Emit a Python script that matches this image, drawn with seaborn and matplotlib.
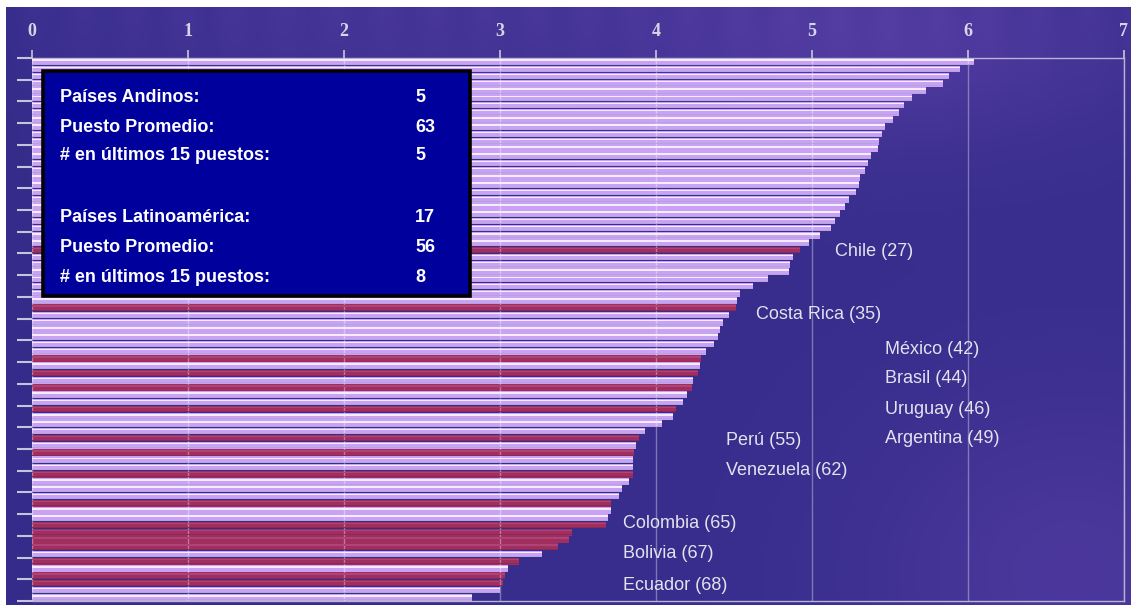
import numpy as np
import pandas as pd
import matplotlib
matplotlib.use("Agg")
import matplotlib.pyplot as plt
from matplotlib.patches import Rectangle
import seaborn as sns

# Growth competitiveness index, 75 economies sorted by rank
ranks = list(range(1, 76))
index_values = [
    6.04, 5.95, 5.88, 5.84, 5.73, 5.64, 5.59, 5.56, 5.52, 5.47,
    5.45, 5.43, 5.42, 5.38, 5.36, 5.34, 5.31, 5.30, 5.28, 5.24,
    5.21, 5.18, 5.15, 5.12, 5.05, 4.98, 4.92, 4.88, 4.86, 4.85,
    4.72, 4.62, 4.54, 4.52, 4.51, 4.47, 4.43, 4.41, 4.40, 4.37,
    4.32, 4.29, 4.28, 4.27, 4.24, 4.23, 4.20, 4.17, 4.13, 4.11,
    4.04, 3.93, 3.89, 3.87, 3.86, 3.85, 3.85, 3.85, 3.83, 3.78,
    3.76, 3.71, 3.71, 3.69, 3.68, 3.46, 3.44, 3.37, 3.27, 3.12,
    3.05, 3.03, 3.02, 3.00, 2.82,
]
# Ranks held by Latin American countries
latam_ranks = [27, 35, 42, 44, 46, 49, 53, 55, 58, 62, 65, 66, 67, 68, 70, 72, 73]

# Named countries and their rank
label_names = ["Chile", "Costa Rica", "México", "Brasil", "Uruguay", "Argentina",
               "Perú", "Venezuela", "Colombia", "Bolivia", "Ecuador"]
label_ranks = [27, 35, 42, 44, 46, 49, 55, 62, 65, 67, 68]

# Summary box
summary_labels = ["Países Andinos:", "Puesto Promedio:", "# en últimos 15 puestos:",
                  "Países Latinoamérica:", "Puesto Promedio:", "# en últimos 15 puestos:"]
summary_values = ["5", "63", "5", "17", "56", "8"]

x_ticks = [0, 1, 2, 3, 4, 5, 6, 7]

# ---------------------------------------------------------------- layout
W, H = 1131, 605
LAVENDER = "#c9a2f6"
CRIMSON = "#a02f60"

df = pd.DataFrame({"rank": ranks, "value": index_values})
df["grupo"] = np.where(df["rank"].isin(latam_ranks), "latam", "otros")

sns.set_theme(style="white")
plt.rcParams["font.family"] = ["Liberation Sans", "DejaVu Sans"]

fig = plt.figure(figsize=(W / 100, H / 100), dpi=100, facecolor="white")

# purple backdrop
bg = fig.add_axes([6 / W, 0, 1 - 6 / W, 1 - 7 / H], zorder=-5)
gy, gx = np.mgrid[0:1:300j, 0:1:560j]
base = np.array([0.205, 0.170, 0.540])
light = np.array([0.37, 0.26, 0.67])
field = 0.10 + 0.55 * np.exp(-((gx - 0.78) ** 2 / 0.05 + (gy - 0.05) ** 2 / 0.03))
field += 0.45 * np.exp(-((gx - 0.95) ** 2 / 0.03 + (gy - 0.95) ** 2 / 0.08))
field += 0.25 * np.exp(-((gx - 0.35) ** 2 / 0.08 + (gy - 0.02) ** 2 / 0.02))
field -= 0.08 * np.exp(-((gx - 0.0) ** 2 / 0.002))
streaks = 0.12 * (np.sin(gx * 70) ** 2) * np.exp(-gy / 0.08)
field = np.clip(field + streaks, 0, 1)
img = base[None, None, :] * (1 - field[..., None]) + light[None, None, :] * field[..., None]
bg.imshow(img, aspect="auto", extent=[0, 1, 0, 1], interpolation="bilinear")
bg.set_axis_off()

ax = fig.add_axes([32 / W, 1 - 601 / H, (1124 - 32) / W, (601 - 58) / H])
ax.set_facecolor("none")

sns.barplot(data=df, x="value", y="rank", hue="grupo", orient="h", dodge=False,
            palette={"latam": CRIMSON, "otros": LAVENDER}, width=0.92,
            saturation=1, legend=False, ax=ax, linewidth=0)

# soft highlight and shade stripes along each bar
pos = np.arange(len(df))
hi_colors = np.where(df["grupo"] == "latam", "#ad4377", "#f6ecff")
ax.barh(pos - 0.22, df["value"], height=0.2, color=hi_colors, linewidth=0, zorder=3)
lo_colors = np.where(df["grupo"] == "latam", "#8a2955", "#b3a5d8")
ax.barh(pos + 0.35, df["value"], height=0.12, color=lo_colors, linewidth=0, zorder=3)

ax.set_xlim(0, 7)
ax.set_ylim(len(df) - 0.5, -0.5)
ax.set_xticks(x_ticks)
ax.set_xticklabels([str(t) for t in x_ticks], family="Liberation Serif",
                   fontsize=13, fontweight="bold", color="#d8d5ea")
ax.xaxis.tick_top()
ax.tick_params(axis="x", top=True, bottom=False, length=6, width=1.2,
               color="#c9c6dc", pad=7, direction="out")
ax.set_yticks(np.arange(-0.5, len(df), 3))
ax.set_yticklabels([])
ax.tick_params(axis="y", left=True, length=11, width=1.5, color="#c6c4d8",
               direction="out")
ax.set_xlabel("")
ax.set_ylabel("")
ax.grid(axis="x", color="white", alpha=0.35, linewidth=1)
ax.grid(axis="y", visible=False)
ax.set_axisbelow(False)
for side in ["top", "right", "bottom"]:
    ax.spines[side].set_color("#b9b4d4")
    ax.spines[side].set_linewidth(1)
ax.spines["left"].set_visible(False)

# country labels
label_xy = {
    "Chile": (5.15, 26.2), "Costa Rica": (4.64, 34.9), "México": (5.47, 39.7),
    "Brasil": (5.47, 43.8), "Uruguay": (5.47, 48.0), "Argentina": (5.47, 52.1),
    "Perú": (4.45, 52.4), "Venezuela": (4.45, 56.5), "Colombia": (3.79, 63.8),
    "Bolivia": (3.79, 68.0), "Ecuador": (3.79, 72.3),
}
for name, rk in zip(label_names, label_ranks):
    lx, ly = label_xy[name]
    ax.text(lx, ly, f"{name} ({rk})", color="#e4e2ee", fontsize=13,
            va="center", ha="left", zorder=6)

# summary box
box_l, box_t, box_r, box_b = 43, 71, 470, 296
fig.add_artist(Rectangle((box_l / W, 1 - box_b / H), (box_r - box_l) / W,
                         (box_b - box_t) / H, transform=fig.transFigure,
                         facecolor="#00009c", edgecolor="black", linewidth=2.6,
                         zorder=5))
row_y = [97, 127, 156, 218, 247, 278]
for lab, val, yy in zip(summary_labels, summary_values, row_y):
    fig.text(60 / W, 1 - yy / H, lab, color="white", fontsize=13,
             fontweight="bold", va="center", ha="left", zorder=6)
    fig.text(415 / W, 1 - yy / H, val, color="white", fontsize=13,
             fontweight="bold", va="center", ha="left", zorder=6)

fig.savefig("out.png", dpi=100, facecolor="white")
